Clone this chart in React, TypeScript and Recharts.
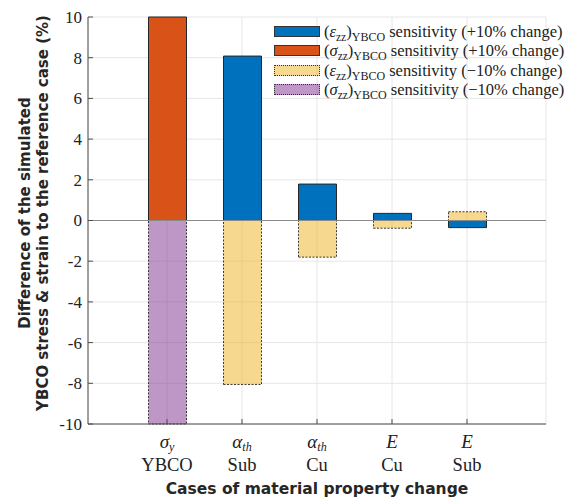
import React from 'react';
import {
  BarChart,
  Bar,
  XAxis,
  YAxis,
  CartesianGrid,
  ReferenceLine,
  Legend,
} from 'recharts';

// cases along the x axis
const categories = ['sy-YBCO', 'ath-Sub', 'ath-Cu', 'E-Cu', 'E-Sub'];
const symbols = ['σ', 'α', 'α', 'E', 'E'];
const symbolSubs = ['y', 'th', 'th', '', ''];
const materials = ['YBCO', 'Sub', 'Cu', 'Cu', 'Sub'];

// % difference to the reference case
const epsPlus = [null, 8.08, 1.79, 0.35, -0.35];
const sigPlus = [10, null, null, null, null];
const epsMinus = [null, -8.06, -1.8, -0.38, 0.43];
const sigMinus = [-10, null, null, null, null];

const yTicks = [-10, -8, -6, -4, -2, 0, 2, 4, 6, 8, 10];

const legendVars = ['ε', 'σ', 'ε', 'σ'];
const legendChanges = ['+10%', '+10%', '−10%', '−10%'];

const data = categories.map((c, i) => ({
  key: c,
  epsPlus: epsPlus[i],
  sigPlus: sigPlus[i],
  epsMinus: epsMinus[i],
  sigMinus: sigMinus[i],
}));

const series = [
  { key: 'epsPlus', color: '#0072BD', opacity: 1, dash: undefined },
  { key: 'sigPlus', color: '#D95319', opacity: 1, dash: undefined },
  { key: 'epsMinus', color: '#EDB120', opacity: 0.5, dash: '2 1.5' },
  { key: 'sigMinus', color: '#7E2F8E', opacity: 0.5, dash: '2 1.5' },
];

const serif = '"Liberation Serif", "DejaVu Serif", serif';
const sans = '"DejaVu Sans", Verdana, sans-serif';
const axisColor = '#4d4d4d';

const BottomTick = (props: any) => {
  const { x, y, payload } = props;
  const i = categories.indexOf(payload.value);
  return (
    <g>
      <line x1={x} x2={x} y1={y} y2={y - 5} stroke={axisColor} />
      <text x={x} y={y + 24} textAnchor="middle" fontFamily={serif} fontSize={19} fontStyle="italic" fill="#222">
        {symbols[i]}
        {symbolSubs[i] && (
          <tspan fontSize={12} dy={3}>{symbolSubs[i]}</tspan>
        )}
      </text>
      <text x={x} y={y + 47} textAnchor="middle" fontFamily={serif} fontSize={18.5} fill="#222">
        {materials[i]}
      </text>
    </g>
  );
};

const TopTick = (props: any) => {
  const { x, y } = props;
  return <line x1={x} x2={x} y1={y} y2={y + 5} stroke={axisColor} />;
};

const LeftTick = (props: any) => {
  const { x, y, payload } = props;
  return (
    <g>
      <line x1={x} x2={x + 5} y1={y} y2={y} stroke={axisColor} />
      <text x={x - 6} y={y} dy="0.35em" textAnchor="end" fontFamily={serif} fontSize={17} fill="#222">
        {payload.value}
      </text>
    </g>
  );
};

const RightTick = (props: any) => {
  const { x, y } = props;
  return <line x1={x} x2={x - 5} y1={y} y2={y} stroke={axisColor} />;
};

const LegendBox = () => (
  <div>
    {series.map((s, i) => (
      <div key={s.key} style={{ display: 'flex', alignItems: 'center', height: 19.3, whiteSpace: 'nowrap' }}>
        <div style={{ position: 'relative', width: 46, height: 11, marginRight: 4 }}>
          <div style={{ position: 'absolute', inset: 0, background: s.color, opacity: s.opacity }} />
          <div style={{ position: 'absolute', inset: 0, border: `1px ${s.dash ? 'dotted' : 'solid'} #333` }} />
        </div>
        <span style={{ fontFamily: serif, fontSize: 16.5, color: '#222', lineHeight: '19px' }}>
          (<i>{legendVars[i]}</i>
          <sub style={{ fontSize: 11.5, lineHeight: 0 }}>zz</sub>)
          <sub style={{ fontSize: 12, lineHeight: 0 }}>YBCO</sub> sensitivity ({legendChanges[i]} change)
        </span>
      </div>
    ))}
  </div>
);

export default function App() {
  return (
    <div style={{ position: 'absolute', left: 0, top: 0, width: 577, height: 501, background: '#fff' }}>
      <BarChart
        width={577}
        height={501}
        data={data}
        stackOffset="sign"
        margin={{ top: 17, right: 31, bottom: 0, left: 0 }}
      >
        <CartesianGrid stroke="#e6e6e6" />
        <XAxis
          dataKey="key"
          type="category"
          height={77}
          padding={{ left: 41.5, right: 41.5 }}
          axisLine={{ stroke: axisColor }}
          tickLine={false}
          tickSize={0}
          tickMargin={0}
          tick={<BottomTick />}
          interval={0}
        />
        <XAxis
          xAxisId="top"
          orientation="top"
          dataKey="key"
          type="category"
          height={0}
          padding={{ left: 41.5, right: 41.5 }}
          axisLine={{ stroke: axisColor }}
          tickLine={false}
          tickSize={0}
          tickMargin={0}
          tick={<TopTick />}
          interval={0}
        />
        <YAxis
          type="number"
          domain={[-10, 10]}
          ticks={yTicks}
          width={88}
          axisLine={{ stroke: axisColor }}
          tickLine={false}
          tickSize={0}
          tickMargin={0}
          tick={<LeftTick />}
          interval={0}
        />
        <YAxis
          yAxisId="right"
          orientation="right"
          type="number"
          domain={[-10, 10]}
          ticks={yTicks}
          width={0}
          axisLine={{ stroke: axisColor }}
          tickLine={false}
          tickSize={0}
          tickMargin={0}
          tick={<RightTick />}
          interval={0}
        />
        {series.map(s => (
          <Bar
            key={s.key}
            dataKey={s.key}
            stackId="a"
            barSize={38}
            fill={s.color}
            fillOpacity={s.opacity}
            stroke="#262626"
            strokeWidth={s.dash ? 0.9 : 1}
            strokeDasharray={s.dash}
            isAnimationActive={false}
          />
        ))}
        <ReferenceLine y={0} stroke="#8a8a8a" strokeWidth={1.2} />
        <Legend
          layout="vertical"
          align="center"
          verticalAlign="middle"
          content={<LegendBox />}
          wrapperStyle={{ position: 'absolute', left: 274, top: 22, width: 320 }}
        />
        <text
          transform="translate(39, 213) rotate(-90)"
          textAnchor="middle"
          fontFamily={sans}
          fontWeight="bold"
          fontSize={15}
          fill="#262626"
        >
          <tspan x={0} y={-9}>Difference of the simulated</tspan>
          <tspan x={0} y={9}>YBCO stress &amp; strain to the reference case (%)</tspan>
        </text>
        <text
          x={317}
          y={494}
          textAnchor="middle"
          fontFamily={sans}
          fontWeight="bold"
          fontSize={15.5}
          fill="#262626"
        >
          Cases of material property change
        </text>
      </BarChart>
    </div>
  );
}
